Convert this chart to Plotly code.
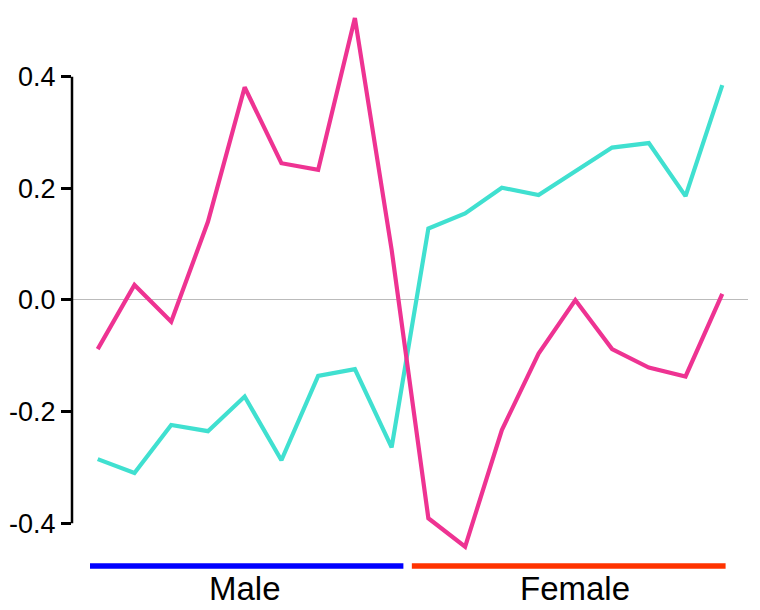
import plotly.graph_objects as go

# ---- data ----
positions = list(range(18))
pink_values = [-0.088, 0.027, -0.039, 0.140, 0.381, 0.245, 0.233, 0.505, 0.090,
               -0.391, -0.442, -0.233, -0.096, 0.000, -0.088, -0.121, -0.137, 0.011]
teal_values = [-0.285, -0.310, -0.224, -0.235, -0.173, -0.287, -0.136, -0.124, -0.264,
               0.128, 0.155, 0.201, 0.188, 0.231, 0.273, 0.281, 0.186, 0.385]
group_names = ["Male", "Female"]
group_members = [list(range(0, 9)), list(range(9, 18))]
group_colors = ["#0000FF", "#FF3300"]
tick_vals = [-0.4, -0.2, 0.0, 0.2, 0.4]
tick_text = ["-0.4", "-0.2", "0.0", "0.2", "0.4"]

FONT = "Liberation Sans, Arial, sans-serif"

fig = go.Figure()
fig.add_trace(go.Scatter(x=positions, y=teal_values, mode="lines",
                         line=dict(color="#40E0D0", width=4.2), showlegend=False))
fig.add_trace(go.Scatter(x=positions, y=pink_values, mode="lines",
                         line=dict(color="#EE3392", width=4.2), showlegend=False))

shapes = []
annotations = []
# left axis line only between the outer ticks
shapes.append(dict(type="line", xref="paper", yref="y", x0=0, x1=0,
                   y0=min(tick_vals), y1=max(tick_vals),
                   line=dict(color="black", width=2.5)))
# group bars and labels
pads = [(-0.21, 0.32), (-0.45, 0.09)]
for name, members, color, (pl, pr) in zip(group_names, group_members, group_colors, pads):
    x0 = members[0] + pl
    x1 = members[-1] + pr
    shapes.append(dict(type="line", xref="x", yref="y", x0=x0, x1=x1,
                       y0=-0.4764, y1=-0.4764, line=dict(color=color, width=5.5)))
    annotations.append(dict(x=(members[0] + members[-1]) / 2, y=-0.516, xref="x", yref="y",
                            text=name, showarrow=False,
                            font=dict(family=FONT, size=33, color="black"),
                            xanchor="center", yanchor="middle"))

# page body adds an 8px offset, so the figure is 8px smaller and margins shifted
fig.update_layout(
    width=752, height=602,
    margin=dict(l=64, r=12, t=2, b=3, autoexpand=False),
    paper_bgcolor="white", plot_bgcolor="white",
    shapes=shapes, annotations=annotations,
    xaxis=dict(visible=False, range=[-0.70, 17.70], automargin=False),
    yaxis=dict(range=[-0.5499, 0.5194], showline=False, showgrid=False, automargin=False,
               zeroline=True, zerolinecolor="#BBBBBB", zerolinewidth=1,
               tickmode="array", tickvals=tick_vals, ticktext=tick_text,
               ticks="outside", ticklen=10, tickwidth=2.5, tickcolor="black",
               tickfont=dict(family=FONT, size=27, color="black")),
)

fig.write_html("out.html")
